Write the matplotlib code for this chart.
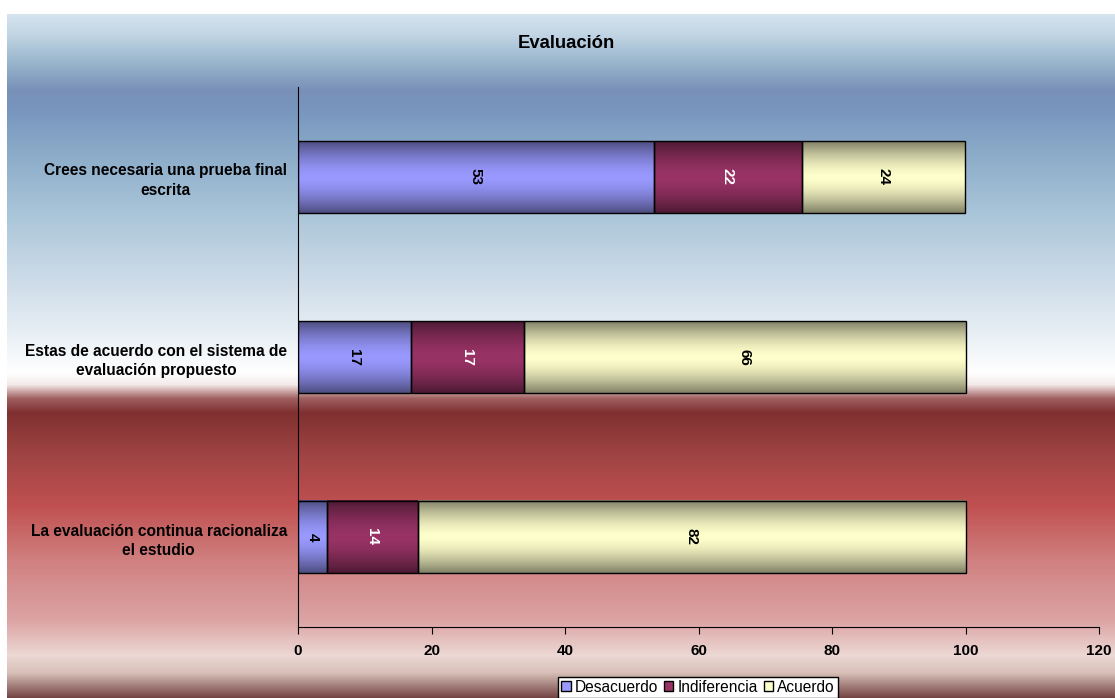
import matplotlib.pyplot as plt
import numpy as np
from matplotlib.colors import to_rgb
from matplotlib.patches import Patch

plt.rcParams['font.family'] = ['Liberation Sans', 'DejaVu Sans']

# data
questions = ['Crees necesaria una prueba final\nescrita',
             'Estas de acuerdo con el sistema de\nevaluación propuesto',
             'La evaluación continua racionaliza\nel estudio']
series = ['Desacuerdo', 'Indiferencia', 'Acuerdo']
desacuerdo = [53.3, 16.9, 4.3]
indiferencia = [22.2, 16.9, 13.7]
acuerdo = [24.4, 66.2, 82.0]
colors = ['#9999ff', '#993366', '#ffffcc']
label_colors = ['black', 'white', 'black']

W, H = 1115, 698
fig = plt.figure(figsize=(W / 100, H / 100), dpi=100)
fig.patch.set_facecolor('white')

# background gradient (chart area), pixel rows from the top
bg_stops = [(14, '#d6e4ee'), (35, '#c0d4e4'), (60, '#9cb8ce'), (90, '#7890b8'),
            (110, '#7896be'), (150, '#8aaac8'), (210, '#a8c4d8'), (270, '#c8d8e6'),
            (330, '#e6eef4'), (372, '#ffffff'), (384, '#f4eaea'), (398, '#a06060'),
            (412, '#803030'), (455, '#a04444'), (505, '#c05050'), (560, '#d08080'),
            (620, '#dca4a4'), (655, '#ecd8d4'), (672, '#d8c0b8'), (698, '#704040')]
rows = np.arange(14, H)
pos = [p for p, _ in bg_stops]
rgb = np.array([to_rgb(c) for _, c in bg_stops])
grad = np.stack([np.interp(rows, pos, rgb[:, k]) for k in range(3)], axis=1)
bg = fig.add_axes([7 / W, 0, 1 - 7 / W, (H - 14) / H])
bg.imshow(grad[:, None, :], aspect='auto', extent=(0, 1, 0, 1))
bg.set_axis_off()
bg.set_zorder(-5)

ax = fig.add_axes([298 / W, 1 - 627 / H, (1099 - 298) / W, (627 - 87) / H])
ax.set_facecolor('none')

y = np.arange(len(questions))
bar_h = 0.4
left = np.zeros(len(questions))
t = np.linspace(-1, 1, 100)
shade = 0.5 + 0.5 * np.clip(1 - np.abs(t) ** 1.6, 0, 1)
for vals, col, lc in zip([desacuerdo, indiferencia, acuerdo], colors, label_colors):
    base = np.array(to_rgb(col))
    img = (shade[:, None] * base[None, :])[:, None, :]
    for i, v in enumerate(vals):
        ax.imshow(img, aspect='auto', zorder=2,
                  extent=(left[i], left[i] + v, y[i] + bar_h / 2, y[i] - bar_h / 2))
        ax.text(left[i] + v / 2, y[i], f'{round(v):d}', rotation=-90, ha='center',
                va='center', fontsize=11, fontweight='bold', color=lc, zorder=4)
    ax.barh(y, vals, left=left, height=bar_h, facecolor='none', edgecolor='black',
            linewidth=1, zorder=3)
    left += np.array(vals)

ax.set_xlim(0, 120)
ax.set_ylim(len(questions) - 0.5, -0.5)
ax.set_xticks(range(0, 121, 20))
ax.set_yticks(y)
ax.set_yticklabels(questions)
for lab in ax.get_yticklabels():
    lab.set_multialignment('center')
    lab.set_linespacing(1.4)
ax.tick_params(axis='y', length=0, pad=8, labelsize=11.2)
ax.tick_params(axis='x', length=5, pad=7, labelsize=11, direction='out')
for lab in ax.get_xticklabels() + ax.get_yticklabels():
    lab.set_fontweight('bold')
ax.spines['top'].set_visible(False)
ax.spines['right'].set_visible(False)

fig.text(566 / W, 1 - 44 / H, 'Evaluación', ha='center', va='center',
         fontsize=13.3, fontweight='bold')

handles = [Patch(facecolor=c, edgecolor='black', linewidth=1) for c in colors]
leg = fig.legend(handles, series, loc='lower center', bbox_to_anchor=(698 / W, 0),
                 ncol=3, fontsize=11.2, frameon=True, fancybox=False,
                 handlelength=0.6, handleheight=0.6, handletextpad=0.25,
                 columnspacing=0.4, borderpad=0.2, borderaxespad=0)
leg.get_frame().set_edgecolor('black')
leg.get_frame().set_linewidth(1)
leg.get_frame().set_facecolor('white')
leg.get_frame().set_alpha(1)

fig.savefig('out.png', dpi=100)
